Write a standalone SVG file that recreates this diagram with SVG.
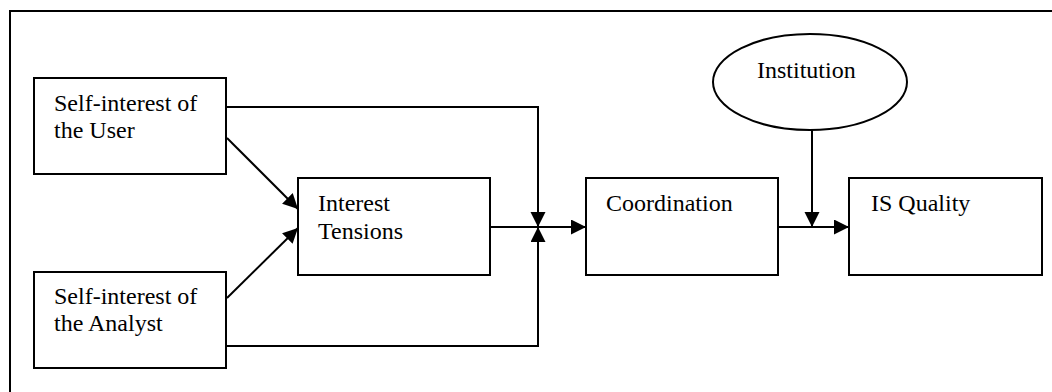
<svg xmlns="http://www.w3.org/2000/svg" width="1052" height="392" viewBox="0 0 1052 392">
<style>
.box{fill:#fff;stroke:#000;stroke-width:2}
.t{font-family:"Liberation Serif","Times New Roman",serif;font-size:24px;fill:#000}
.c{fill:none;stroke:#000;stroke-width:2}
</style>
<defs>
<marker id="ah" markerUnits="userSpaceOnUse" markerWidth="16" markerHeight="16" refX="15" refY="7.5" orient="auto">
<path d="M0,0 L15,7.5 L0,15 z" fill="#000"/>
</marker>
</defs>
<rect width="1052" height="392" fill="#fff"/>
<rect x="10" y="11" width="1100" height="420" fill="none" stroke="#000" stroke-width="2"/>
<g id="connectors">
<line class="c" x1="227" y1="138" x2="298" y2="209" marker-end="url(#ah)"/>
<line class="c" x1="227" y1="298" x2="298" y2="228" marker-end="url(#ah)"/>
<polyline class="c" points="226,107 538,107 538,227" marker-end="url(#ah)"/>
<polyline class="c" points="226,346 538,346 538,227" marker-end="url(#ah)"/>
<line class="c" x1="490" y1="227" x2="586" y2="227" marker-end="url(#ah)"/>
<line class="c" x1="778" y1="227" x2="849" y2="227" marker-end="url(#ah)"/>
<line class="c" x1="812" y1="130" x2="812" y2="227" marker-end="url(#ah)"/>
</g>
<g id="user">
<rect class="box" x="34" y="78" width="192" height="96"/>
<text class="t" x="54" y="111">Self-interest of</text>
<text class="t" x="54" y="138">the User</text>
</g>
<g id="analyst">
<rect class="box" x="34" y="272" width="192" height="96"/>
<text class="t" x="54" y="304">Self-interest of</text>
<text class="t" x="54" y="331">the Analyst</text>
</g>
<g id="tensions">
<rect class="box" x="298" y="178" width="192" height="97"/>
<text class="t" x="318" y="211">Interest</text>
<text class="t" x="318" y="239">Tensions</text>
</g>
<g id="coordination">
<rect class="box" x="586" y="178" width="192" height="97"/>
<text class="t" x="606" y="211">Coordination</text>
</g>
<g id="quality">
<rect class="box" x="849" y="178" width="193" height="97"/>
<text class="t" x="871" y="211">IS Quality</text>
</g>
<g id="institution">
<ellipse class="box" cx="810" cy="82" rx="97" ry="48"/>
<text class="t" x="757" y="78">Institution</text>
</g>
</svg>
